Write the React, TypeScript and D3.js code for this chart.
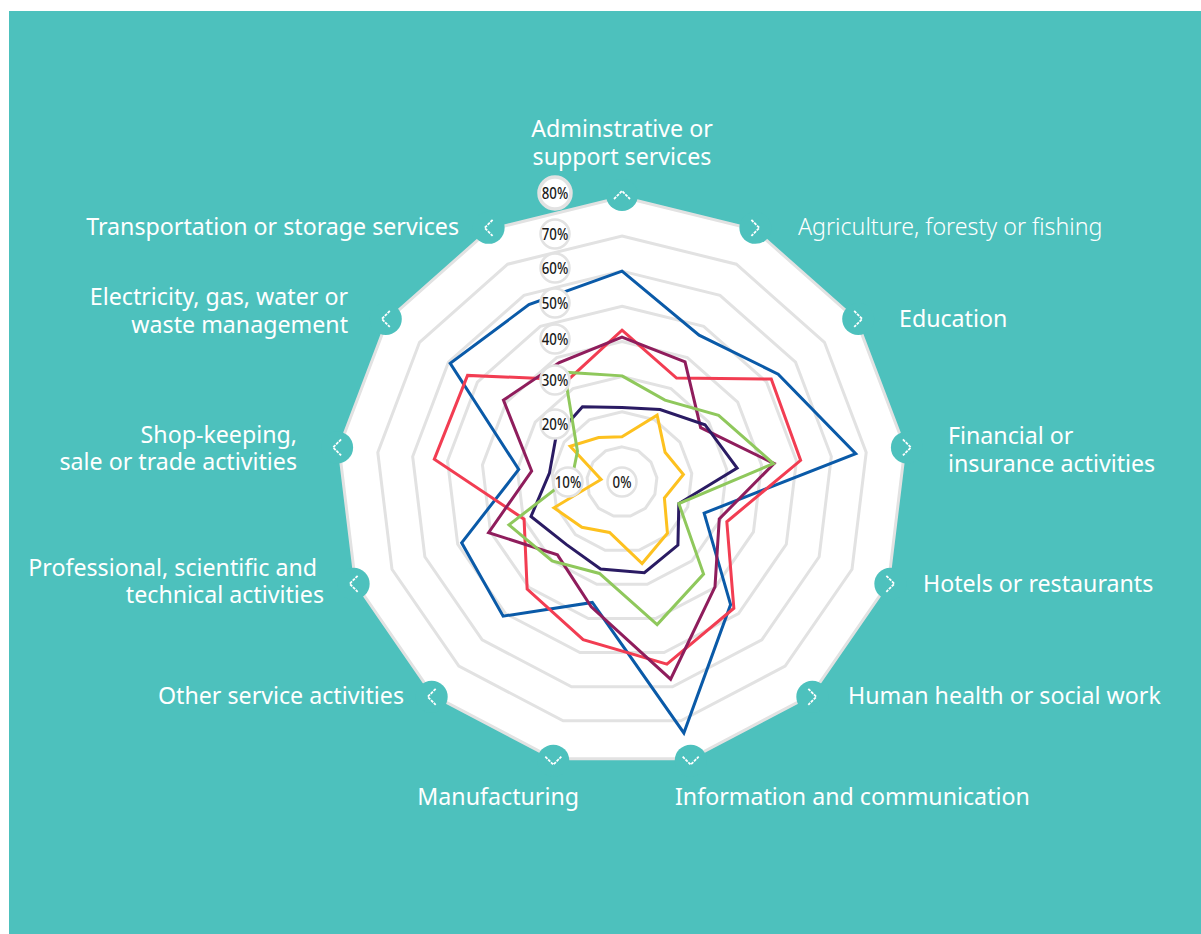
import React from "react";
import * as d3 from "d3";

const categories = [
  "Adminstrative or support services", "Agriculture, foresty or fishing", "Education",
  "Financial or insurance activities", "Hotels or restaurants", "Human health or social work",
  "Information and communication", "Manufacturing", "Other service activities",
  "Professional, scientific and technical activities", "Shop-keeping, sale or trade activities",
  "Electricity, gas, water or waste management", "Transportation or storage services",
];
const blue = [60, 47.2, 54, 67, 25, 46.6, 73.2, 35.3, 51, 48.8, 29.6, 59.4, 57];
const red = [43.2, 33.4, 51.6, 51.2, 31.9, 48, 53.4, 46.2, 40.7, 29.8, 53.8, 53.4, 32.9];
const purple = [41.2, 38.6, 27.2, 43.6, 29.6, 39.9, 57.8, 36.6, 27.7, 40.6, 25.9, 41, 38.4];
const navy = [21.2, 23.3, 28.7, 33, 17.3, 24, 26.6, 25.5, 23.8, 27.7, 20.8, 22.8, 24.2];
const yellow = [12.9, 21.5, 14.9, 17.6, 12.9, 19.5, 23.9, 14.8, 17.2, 20.7, 6, 17.9, 14.3];
const green = [30.2, 26.3, 33.4, 43.4, 17.3, 35, 41.8, 26.8, 30, 34.4, 14.2, 15.4, 35.3];
const ticks = [0, 10, 20, 30, 40, 50, 60, 70, 80];
const rings = [10, 20, 30, 40, 50, 60, 70];

const seriesList = [
  { values: blue, color: "#0a5aa8" },
  { values: red, color: "#f23d52" },
  { values: purple, color: "#8f1d5c" },
  { values: navy, color: "#2a1b63" },
  { values: yellow, color: "#fdc11f" },
  { values: green, color: "#8fc85c" },
];

const CX = 622, CY = 482;
const TEAL = "#4dc1bd";
const GRAY = "#e2e2e2";
const r = d3.scaleLinear().domain([0, 70, 80]).range([0, 246, 285]);
const angle = d3.scaleLinear().domain([0, categories.length]).range([0, 2 * Math.PI]);
const radial = d3.lineRadial<number>()
  .angle((_, i) => angle(i))
  .radius((d) => r(d))
  .curve(d3.curveLinearClosed);

const tickPos: [number, number][] = [
  [622, 482], [568, 482], [555, 424], [555, 380], [555, 339], [555, 303], [555, 268], [555, 234], [555, 193],
];

type Lab = { anchor: string; lines: [string, number, number][]; light?: boolean };
const labelLayout: Lab[] = [
  { anchor: "middle", lines: [["Adminstrative or", 622, 137], ["support services", 622, 165]] },
  { anchor: "start", lines: [["Agriculture, foresty or fishing", 798, 235]], light: true },
  { anchor: "start", lines: [["Education", 899, 327]] },
  { anchor: "start", lines: [["Financial or", 948, 444], ["insurance activities", 948, 472]] },
  { anchor: "start", lines: [["Hotels or restaurants", 923, 592]] },
  { anchor: "start", lines: [["Human health or social work", 848, 704]] },
  { anchor: "start", lines: [["Information and communication", 675, 805]] },
  { anchor: "end", lines: [["Manufacturing", 579, 805]] },
  { anchor: "end", lines: [["Other service activities", 404, 704]] },
  { anchor: "end", lines: [["Professional, scientific and", 317, 576], ["technical activities", 324, 603]] },
  { anchor: "end", lines: [["Shop-keeping,", 297, 443], ["sale or trade activities", 297, 470]] },
  { anchor: "end", lines: [["Electricity, gas, water or", 348, 305], ["waste management", 348, 333]] },
  { anchor: "end", lines: [["Transportation or storage services", 459, 235]] },
];

const chevronDir = [0, 1, 1, 1, 1, 1, 2, 2, 3, 3, 3, 3, 3];
const chevronPath = ["M-8,4L0,-4L8,4", "M-4,-8L4,0L-4,8", "M-8,-4L0,4L8,-4", "M4,-8L-4,0L4,8"];

export default function App() {
  const outer = categories.map(() => 80);
  return (
    <svg width={1201} height={934} viewBox="0 0 1201 934" style={{ display: "block", position: "absolute", left: 0, top: 0 }}>
      <rect x={9} y={11} width={1192} height={923} fill={TEAL} />
      <g transform={`translate(${CX},${CY})`}>
        <path d={radial(outer) ?? ""} fill="#fff" stroke={GRAY} strokeWidth={3} />
        {rings.map((t) => (
          <path key={t} d={radial(categories.map(() => t)) ?? ""} fill="none" stroke={GRAY} strokeWidth={3} />
        ))}
        {seriesList.map((s, i) => (
          <path key={i} d={radial(s.values) ?? ""} fill="none" stroke={s.color} strokeWidth={3} strokeLinejoin="miter" />
        ))}
        {categories.map((c, i) => {
          const a = angle(i);
          const R = r(80) + 2;
          const x = Math.sin(a) * R, y = -Math.cos(a) * R;
          return (
            <g key={c} transform={`translate(${x},${y})`}>
              <circle r={16} fill={TEAL} />
              <path d={chevronPath[chevronDir[i]]} fill="none" stroke="#fff" strokeWidth={1.8} strokeDasharray="3 1" />
            </g>
          );
        })}
      </g>
      {ticks.map((t, i) => (
        <g key={t} transform={`translate(${tickPos[i][0]},${tickPos[i][1]})`}>
          <circle r={t === 80 ? 16 : 14.5} fill="#fff" stroke={GRAY} strokeWidth={t === 80 ? 3.5 : 2.5} />
          <text transform="scale(0.83,1)" textAnchor="middle" y={5.5} fontFamily="'Noto Sans'" fontSize={16} fontWeight={500} fill="#1a1a1a">
            {t}%
          </text>
        </g>
      ))}
      {labelLayout.map((l) =>
        l.lines.map(([txt, x, y]) => (
          <text key={txt} x={x} y={y} textAnchor={l.anchor} fontFamily="'Noto Sans'" fontSize={23.2}
            fontWeight={l.light ? 300 : 400} fill="#fff">
            {txt}
          </text>
        ))
      )}
    </svg>
  );
}
